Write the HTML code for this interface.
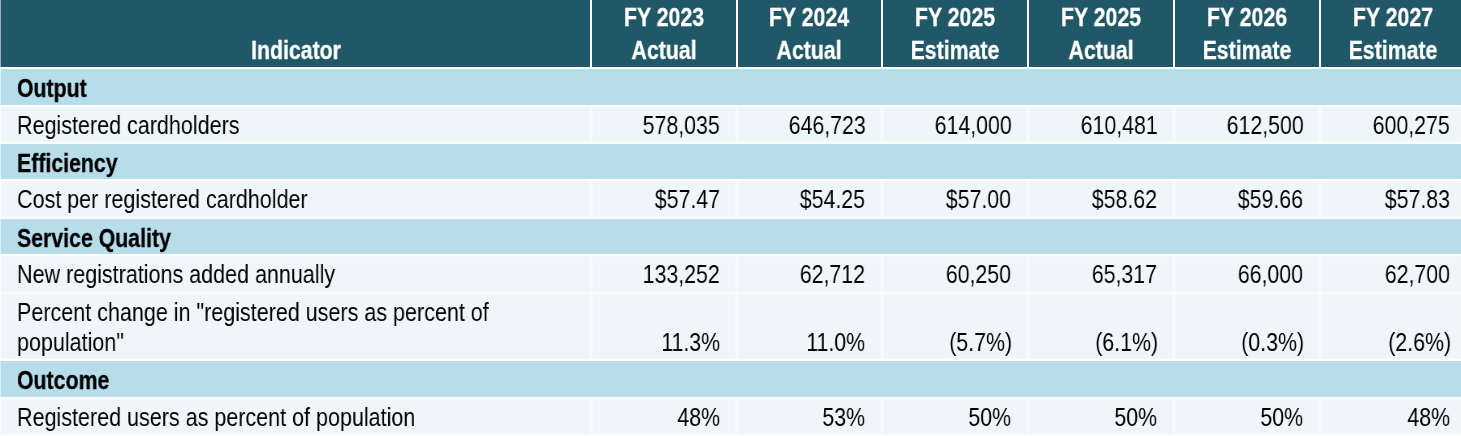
<!DOCTYPE html>
<html><head><meta charset="utf-8"><title>Indicators</title>
<style>
html,body{margin:0;padding:0;background:#fff;}
body{width:1461px;height:436px;position:relative;overflow:hidden;font-family:"Liberation Sans",sans-serif;}
.r{position:absolute;}
.d{background:#EFF6F9;box-shadow:inset 0 0 0 1px #F3F8FB;}
.t{position:absolute;white-space:nowrap;will-change:transform;font-size:26.5px;line-height:30px;height:30px;}
.b{font-weight:bold;font-size:26.2px;-webkit-text-stroke:0.3px currentColor;}
</style></head><body>
<div class="r" style="left:0px;top:0px;width:590px;height:67px;background:#215868"></div>
<div class="r" style="left:592px;top:0px;width:144px;height:67px;background:#215868"></div>
<div class="r" style="left:738px;top:0px;width:143px;height:67px;background:#215868"></div>
<div class="r" style="left:883px;top:0px;width:144px;height:67px;background:#215868"></div>
<div class="r" style="left:1029px;top:0px;width:144px;height:67px;background:#215868"></div>
<div class="r" style="left:1175px;top:0px;width:144px;height:67px;background:#215868"></div>
<div class="r" style="left:1321px;top:0px;width:140px;height:67px;background:#215868"></div>
<div class="r" style="left:0;top:69px;width:1461px;height:36px;background:#B7DCEA"></div>
<div class="r" style="left:0;top:144px;width:1461px;height:35px;background:#B7DCEA"></div>
<div class="r" style="left:0;top:219px;width:1461px;height:35px;background:#B7DCEA"></div>
<div class="r" style="left:0;top:361px;width:1461px;height:36px;background:#B7DCEA"></div>
<div class="r" style="left:0;top:107px;width:1461px;height:35px;background:#F8FBFD"></div>
<div class="r d" style="left:0px;top:107px;width:590px;height:35px"></div>
<div class="r d" style="left:592px;top:107px;width:144px;height:35px"></div>
<div class="r d" style="left:738px;top:107px;width:143px;height:35px"></div>
<div class="r d" style="left:883px;top:107px;width:144px;height:35px"></div>
<div class="r d" style="left:1029px;top:107px;width:144px;height:35px"></div>
<div class="r d" style="left:1175px;top:107px;width:144px;height:35px"></div>
<div class="r d" style="left:1321px;top:107px;width:140px;height:35px"></div>
<div class="r" style="left:0;top:181px;width:1461px;height:36px;background:#F8FBFD"></div>
<div class="r d" style="left:0px;top:181px;width:590px;height:36px"></div>
<div class="r d" style="left:592px;top:181px;width:144px;height:36px"></div>
<div class="r d" style="left:738px;top:181px;width:143px;height:36px"></div>
<div class="r d" style="left:883px;top:181px;width:144px;height:36px"></div>
<div class="r d" style="left:1029px;top:181px;width:144px;height:36px"></div>
<div class="r d" style="left:1175px;top:181px;width:144px;height:36px"></div>
<div class="r d" style="left:1321px;top:181px;width:140px;height:36px"></div>
<div class="r" style="left:0;top:256px;width:1461px;height:38px;background:#F8FBFD"></div>
<div class="r d" style="left:0px;top:256px;width:590px;height:36px"></div>
<div class="r d" style="left:592px;top:256px;width:144px;height:36px"></div>
<div class="r d" style="left:738px;top:256px;width:143px;height:36px"></div>
<div class="r d" style="left:883px;top:256px;width:144px;height:36px"></div>
<div class="r d" style="left:1029px;top:256px;width:144px;height:36px"></div>
<div class="r d" style="left:1175px;top:256px;width:144px;height:36px"></div>
<div class="r d" style="left:1321px;top:256px;width:140px;height:36px"></div>
<div class="r" style="left:0;top:294px;width:1461px;height:65px;background:#F8FBFD"></div>
<div class="r d" style="left:0px;top:294px;width:590px;height:65px"></div>
<div class="r d" style="left:592px;top:294px;width:144px;height:65px"></div>
<div class="r d" style="left:738px;top:294px;width:143px;height:65px"></div>
<div class="r d" style="left:883px;top:294px;width:144px;height:65px"></div>
<div class="r d" style="left:1029px;top:294px;width:144px;height:65px"></div>
<div class="r d" style="left:1175px;top:294px;width:144px;height:65px"></div>
<div class="r d" style="left:1321px;top:294px;width:140px;height:65px"></div>
<div class="r" style="left:0;top:399px;width:1461px;height:36px;background:#F8FBFD"></div>
<div class="r d" style="left:0px;top:399px;width:590px;height:36px"></div>
<div class="r d" style="left:592px;top:399px;width:144px;height:36px"></div>
<div class="r d" style="left:738px;top:399px;width:143px;height:36px"></div>
<div class="r d" style="left:883px;top:399px;width:144px;height:36px"></div>
<div class="r d" style="left:1029px;top:399px;width:144px;height:36px"></div>
<div class="r d" style="left:1175px;top:399px;width:144px;height:36px"></div>
<div class="r d" style="left:1321px;top:399px;width:140px;height:36px"></div>
<div class="t b" style="top:35.00px;left:-4.0px;width:600px;text-align:center;transform-origin:50% 0;color:#fff;transform:scaleX(0.813)">Indicator</div>
<div class="t b" style="top:2.00px;left:363.6px;width:600px;text-align:center;transform-origin:50% 0;color:#fff;transform:scaleX(0.813)">FY 2023</div>
<div class="t b" style="top:35.00px;left:363.6px;width:600px;text-align:center;transform-origin:50% 0;color:#fff;transform:scaleX(0.813)">Actual</div>
<div class="t b" style="top:2.00px;left:508.70000000000005px;width:600px;text-align:center;transform-origin:50% 0;color:#fff;transform:scaleX(0.813)">FY 2024</div>
<div class="t b" style="top:35.00px;left:508.70000000000005px;width:600px;text-align:center;transform-origin:50% 0;color:#fff;transform:scaleX(0.813)">Actual</div>
<div class="t b" style="top:2.00px;left:655.2px;width:600px;text-align:center;transform-origin:50% 0;color:#fff;transform:scaleX(0.813)">FY 2025</div>
<div class="t b" style="top:35.00px;left:655.2px;width:600px;text-align:center;transform-origin:50% 0;color:#fff;transform:scaleX(0.813)">Estimate</div>
<div class="t b" style="top:2.00px;left:800.8px;width:600px;text-align:center;transform-origin:50% 0;color:#fff;transform:scaleX(0.813)">FY 2025</div>
<div class="t b" style="top:35.00px;left:800.8px;width:600px;text-align:center;transform-origin:50% 0;color:#fff;transform:scaleX(0.813)">Actual</div>
<div class="t b" style="top:2.00px;left:947.0px;width:600px;text-align:center;transform-origin:50% 0;color:#fff;transform:scaleX(0.813)">FY 2026</div>
<div class="t b" style="top:35.00px;left:947.0px;width:600px;text-align:center;transform-origin:50% 0;color:#fff;transform:scaleX(0.813)">Estimate</div>
<div class="t b" style="top:2.00px;left:1092.8px;width:600px;text-align:center;transform-origin:50% 0;color:#fff;transform:scaleX(0.813)">FY 2027</div>
<div class="t b" style="top:35.00px;left:1092.8px;width:600px;text-align:center;transform-origin:50% 0;color:#fff;transform:scaleX(0.813)">Estimate</div>
<div class="t b" style="top:73.00px;left:16.7px;transform-origin:0 0;color:#000;transform:scaleX(0.813)">Output</div>
<div class="t b" style="top:148.00px;left:16.7px;transform-origin:0 0;color:#000;transform:scaleX(0.813)">Efficiency</div>
<div class="t b" style="top:223.00px;left:16.7px;transform-origin:0 0;color:#000;transform:scaleX(0.813)">Service Quality</div>
<div class="t b" style="top:365.00px;left:16.7px;transform-origin:0 0;color:#000;transform:scaleX(0.813)">Outcome</div>
<div class="t" style="top:110.00px;left:16.7px;transform-origin:0 0;color:#000;transform:scaleX(0.812)">Registered cardholders</div>
<div class="t" style="top:110.00px;right:741px;transform-origin:100% 0;color:#000;transform:scaleX(0.805)">578,035</div>
<div class="t" style="top:110.00px;right:595.5px;transform-origin:100% 0;color:#000;transform:scaleX(0.805)">646,723</div>
<div class="t" style="top:110.00px;right:449.5px;transform-origin:100% 0;color:#000;transform:scaleX(0.805)">614,000</div>
<div class="t" style="top:110.00px;right:303.5px;transform-origin:100% 0;color:#000;transform:scaleX(0.805)">610,481</div>
<div class="t" style="top:110.00px;right:157.5px;transform-origin:100% 0;color:#000;transform:scaleX(0.805)">612,500</div>
<div class="t" style="top:110.00px;right:11px;transform-origin:100% 0;color:#000;transform:scaleX(0.805)">600,275</div>
<div class="t" style="top:184.00px;left:16.7px;transform-origin:0 0;color:#000;transform:scaleX(0.812)">Cost per registered cardholder</div>
<div class="t" style="top:184.00px;right:741px;transform-origin:100% 0;color:#000;transform:scaleX(0.805)">$57.47</div>
<div class="t" style="top:184.00px;right:595.5px;transform-origin:100% 0;color:#000;transform:scaleX(0.805)">$54.25</div>
<div class="t" style="top:184.00px;right:449.5px;transform-origin:100% 0;color:#000;transform:scaleX(0.805)">$57.00</div>
<div class="t" style="top:184.00px;right:303.5px;transform-origin:100% 0;color:#000;transform:scaleX(0.805)">$58.62</div>
<div class="t" style="top:184.00px;right:157.5px;transform-origin:100% 0;color:#000;transform:scaleX(0.805)">$59.66</div>
<div class="t" style="top:184.00px;right:11px;transform-origin:100% 0;color:#000;transform:scaleX(0.805)">$57.83</div>
<div class="t" style="top:259.00px;left:16.7px;transform-origin:0 0;color:#000;transform:scaleX(0.812)">New registrations added annually</div>
<div class="t" style="top:259.00px;right:741px;transform-origin:100% 0;color:#000;transform:scaleX(0.805)">133,252</div>
<div class="t" style="top:259.00px;right:595.5px;transform-origin:100% 0;color:#000;transform:scaleX(0.805)">62,712</div>
<div class="t" style="top:259.00px;right:449.5px;transform-origin:100% 0;color:#000;transform:scaleX(0.805)">60,250</div>
<div class="t" style="top:259.00px;right:303.5px;transform-origin:100% 0;color:#000;transform:scaleX(0.805)">65,317</div>
<div class="t" style="top:259.00px;right:157.5px;transform-origin:100% 0;color:#000;transform:scaleX(0.805)">66,000</div>
<div class="t" style="top:259.00px;right:11px;transform-origin:100% 0;color:#000;transform:scaleX(0.805)">62,700</div>
<div class="t" style="top:297.00px;left:16.7px;transform-origin:0 0;color:#000;transform:scaleX(0.812)">Percent change in &quot;registered users as percent of</div>
<div class="t" style="top:327.00px;left:16.7px;transform-origin:0 0;color:#000;transform:scaleX(0.812)">population&quot;</div>
<div class="t" style="top:327.00px;right:741px;transform-origin:100% 0;color:#000;transform:scaleX(0.805)">11.3%</div>
<div class="t" style="top:327.00px;right:595.5px;transform-origin:100% 0;color:#000;transform:scaleX(0.805)">11.0%</div>
<div class="t" style="top:327.00px;right:448.70000000000005px;transform-origin:100% 0;color:#000;transform:scaleX(0.805)">(5.7%)</div>
<div class="t" style="top:327.00px;right:302.70000000000005px;transform-origin:100% 0;color:#000;transform:scaleX(0.805)">(6.1%)</div>
<div class="t" style="top:327.00px;right:156.70000000000005px;transform-origin:100% 0;color:#000;transform:scaleX(0.805)">(0.3%)</div>
<div class="t" style="top:327.00px;right:10.200000000000045px;transform-origin:100% 0;color:#000;transform:scaleX(0.805)">(2.6%)</div>
<div class="t" style="top:402.00px;left:16.7px;transform-origin:0 0;color:#000;transform:scaleX(0.812)">Registered users as percent of population</div>
<div class="t" style="top:402.00px;right:741px;transform-origin:100% 0;color:#000;transform:scaleX(0.805)">48%</div>
<div class="t" style="top:402.00px;right:595.5px;transform-origin:100% 0;color:#000;transform:scaleX(0.805)">53%</div>
<div class="t" style="top:402.00px;right:449.5px;transform-origin:100% 0;color:#000;transform:scaleX(0.805)">50%</div>
<div class="t" style="top:402.00px;right:303.5px;transform-origin:100% 0;color:#000;transform:scaleX(0.805)">50%</div>
<div class="t" style="top:402.00px;right:157.5px;transform-origin:100% 0;color:#000;transform:scaleX(0.805)">50%</div>
<div class="t" style="top:402.00px;right:11px;transform-origin:100% 0;color:#000;transform:scaleX(0.805)">48%</div>
<div class="r" style="left:0;top:0;width:1px;height:436px;background:rgba(255,255,255,.55)"></div>
</body></html>
